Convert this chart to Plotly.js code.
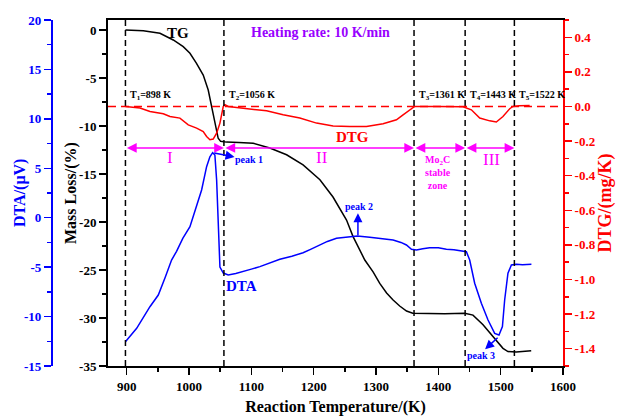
<!DOCTYPE html>
<html>
<head>
<meta charset="utf-8">
<script src="https://cdn.plot.ly/plotly-3.0.1.min.js"></script>
<style>
  html, body { margin: 0; padding: 0; background: #fff; }
  #chart { width: 617px; height: 416px; }
</style>
</head>
<body>
<div id="chart"></div>
<script>
// Thermogravimetric run of the Mo-C sample: TG (mass loss), DTG and DTA vs temperature.

// TG: reaction temperature (K) and mass loss (%)
const tgTemp = [898, 926.6, 953.4, 974.7, 990.7, 1001.5, 1012, 1022.8, 1030.8, 1036, 1041.5, 1046.8, 1050.7,
  1060, 1080, 1103, 1129.6, 1156.5, 1183, 1210, 1231, 1252.7, 1263, 1274, 1282, 1295.3, 1306, 1317, 1327,
  1338, 1349, 1359, 1380, 1410, 1442.3, 1455.6, 1471.7, 1487.7, 1503.7, 1511.7, 1525, 1549];
const tgMass = [0, -0.07, -0.35, -1.04, -1.74, -2.43, -3.47, -4.69, -6.25, -7.99, -9.72, -11.28, -11.6,
  -11.68, -11.72, -11.8, -12.3, -13.0, -14.06, -15.6, -17.4, -19.8, -21.5, -22.9, -23.96, -25.2, -26.4, -27.4, -28.1,
  -28.75, -29.27, -29.5, -29.55, -29.55, -29.5, -29.7, -30.7, -31.95, -33.16, -33.5, -33.55, -33.4];

// DTA: temperature (K) and signal (μV)
const dtaTemp = [898, 916, 937.3, 950.7, 962, 972, 980, 990, 1001.5, 1014.8, 1020.2, 1028.2, 1033.5, 1037.9,
  1041.5, 1044.3, 1046.8, 1048.4, 1049.6, 1055, 1062.9, 1075, 1087, 1100, 1113.7, 1130, 1145.7, 1165, 1183,
  1195, 1209.9, 1222, 1236.6, 1255.2, 1270, 1290, 1310, 1327.4, 1340, 1348.8, 1356.9, 1365, 1375, 1386, 1400,
  1412.9, 1425, 1439.6, 1445, 1450.3, 1458.3, 1469, 1479.7, 1490.4, 1497.3, 1502.8, 1506.4, 1511.7, 1517.2,
  1525.2, 1535, 1549.3];
const dtaSignal = [-12.54, -11.19, -9.0, -7.82, -6.0, -4.28, -3.4, -2.1, -0.91, 1.79, 2.8, 5.16, 6.17, 6.58,
  6.34, 3.82, -0.56, -3.09, -5.0, -5.6, -5.79, -5.65, -5.46, -5.2, -4.95, -4.6, -4.2, -3.9, -3.54,
  -3.2, -2.76, -2.4, -2.08, -1.92, -1.85, -1.98, -2.1, -2.25, -2.5, -2.76, -3.2, -3.27, -3.15, -3.03, -3.05,
  -3.2, -3.25, -3.37, -3.44, -4.28, -6.63, -8.66, -10.35, -11.7, -11.86, -11.02, -8.32, -5.62, -4.78,
  -4.71, -4.75, -4.71];

// DTG: temperature (K) and rate (mg/K)
const dtgTemp = [898, 921.3, 937.4, 958.7, 969.4, 985.4, 998.8, 1012.2, 1022.8, 1028.2, 1033.5, 1038.8, 1044.3,
  1049.6, 1054.9, 1057.6, 1062.9, 1080, 1097.7, 1124.4, 1151, 1177.8, 1204.6, 1231.2, 1258, 1284.7, 1311.4,
  1332.8, 1343.4, 1354.2, 1362, 1400, 1439.6, 1453, 1466.4, 1482.4, 1493, 1503.7, 1514.5, 1519.8, 1530, 1546.5];
const dtgRate = [0, -0.009, -0.029, -0.042, -0.058, -0.067, -0.106, -0.125, -0.145, -0.173, -0.192, -0.188, -0.154,
  -0.096, 0, 0.01, 0, -0.008, -0.015, -0.025, -0.048, -0.067, -0.096, -0.112, -0.116, -0.116, -0.1,
  -0.077, -0.048, -0.019, 0, 0, -0.002, -0.019, -0.067, -0.083, -0.09, -0.058, -0.013, 0, 0.004, 0.006];

// Stage boundary temperatures T1..T5 (K)
const boundaries = [898, 1056, 1361, 1443, 1522];
const stageLabels = ['I', 'II', 'Mo<sub>2</sub>C<br>stable<br>zone', 'III'];

// Tick labels
const tempTicks = [900, 1000, 1100, 1200, 1300, 1400, 1500, 1600];
const massTicks = [0, -5, -10, -15, -20, -25, -30, -35];
const dtaTicks = [20, 15, 10, 5, 0, -5, -10, -15];
const dtgTicks = [0.4, 0.2, 0, -0.2, -0.4, -0.6, -0.8, -1.0, -1.2, -1.4];

const FONT = 'Liberation Serif, Times New Roman, serif';
const BLUE = '#0000ff', RED = '#ff0000', MAGENTA = '#ff00ff', PURPLE = '#9900ff';

const traces = [
  { x: tgTemp, y: tgMass, yaxis: 'y', type: 'scatter', mode: 'lines',
    line: { color: '#000', width: 1.5 }, name: 'TG' },
  { x: dtgTemp, y: dtgRate, yaxis: 'y2', type: 'scatter', mode: 'lines',
    line: { color: RED, width: 1.5 }, name: 'DTG' },
  { x: dtaTemp, y: dtaSignal, yaxis: 'y3', type: 'scatter', mode: 'lines',
    line: { color: BLUE, width: 1.5 }, name: 'DTA' }
];

function axisBase(color) {
  return {
    showline: true, linecolor: color, linewidth: 2, showgrid: false, zeroline: false,
    ticks: 'outside', ticklen: 7, tickwidth: 1.5, tickcolor: color,
    tickfont: { family: FONT, size: 13, color: color, weight: 'bold' },
    automargin: false
  };
}

const shapes = boundaries.map(t => ({
  type: 'line', xref: 'x', yref: 'paper', x0: t, x1: t, y0: 0, y1: 1, layer: 'above',
  line: { color: '#000', width: 1.5, dash: '6px,4px' }
}));
// zero line of the DTG scale
shapes.push({
  type: 'line', xref: 'x domain', yref: 'y2', x0: 0, x1: 1, y0: 0, y1: 0, layer: 'above',
  line: { color: RED, width: 1.5, dash: '8px,5px' }
});

const annotations = [];
const txt = (text, x, y, opts) => annotations.push(Object.assign({
  text, x, y, xref: 'x', yref: 'paper', showarrow: false, xanchor: 'center', yanchor: 'middle',
  font: { family: FONT, size: 10, color: '#000', weight: 'bold' }
}, opts || {}));

// boundary labels
boundaries.forEach((t, i) => txt(`T<sub>${i + 1}</sub>=${t} K`, t, 0.783,
  { xanchor: 'left', xshift: 3, font: { family: FONT, size: 10, color: '#000', weight: 'bold' } }));

// stage arrows between boundaries
for (let i = 0; i < boundaries.length - 1; i++) {
  annotations.push({
    text: '', xref: 'x', yref: 'y', axref: 'x', ayref: 'y',
    x: boundaries[i + 1], y: -12.29, ax: boundaries[i], ay: -12.29,
    showarrow: true, arrowside: 'end+start', arrowhead: 2, startarrowhead: 2,
    arrowsize: 1.3, startarrowsize: 1.3, arrowwidth: 1.5, arrowcolor: MAGENTA,
    standoff: 0, startstandoff: 0
  });
}

// stage names
txt(stageLabels[0], 970, 0.603, { font: { family: FONT, size: 17, color: MAGENTA } });
txt(stageLabels[1], 1213, 0.603, { font: { family: FONT, size: 17, color: MAGENTA } });
txt(stageLabels[2], 1400, 0.560, { font: { family: FONT, size: 10, color: MAGENTA, weight: 'bold' } });
txt(stageLabels[3], 1485, 0.598, { font: { family: FONT, size: 17, color: MAGENTA } });

// curve names and heading
txt('TG', 983, 0.962, { font: { family: FONT, size: 15, color: '#000', weight: 'bold' } });
txt('Heating rate: 10 K/min', 1211, 0.964, { font: { family: FONT, size: 14, color: PURPLE, weight: 'bold' } });
txt('DTG', 1263, 0.663, { font: { family: FONT, size: 15, color: RED, weight: 'bold' } });
txt('DTA', 1084, 0.231, { font: { family: FONT, size: 15, color: BLUE, weight: 'bold' } });

// DTA peaks
const peakFont = { family: FONT, size: 10, color: BLUE, weight: 'bold' };
txt('peak 1', 1096, 0.598, { font: peakFont });
txt('peak 2', 1272, 0.460, { font: peakFont });
txt('peak 3', 1468, 0.030, { font: peakFont });
const peakArrow = (x, y, ax, ay) => annotations.push({
  text: '', xref: 'x', yref: 'y3', axref: 'x', ayref: 'y3', x, y, ax, ay,
  showarrow: true, arrowhead: 2, arrowsize: 1.2, arrowwidth: 1.5, arrowcolor: BLUE, standoff: 0
});
peakArrow(1073, 6.14, 1038, 6.58);
peakArrow(1271, 0.45, 1271, -1.92);
peakArrow(1475, -13.3, 1497.5, -12.0);

// vertical axis titles, placed beside each scale
const titleFont = (c, s) => ({ family: FONT, size: s || 16, color: c, weight: 'bold' });
const axisTitle = (text, x, y, color, size) => annotations.push({
  text, x, y, xref: 'paper', yref: 'paper', xanchor: 'center', yanchor: 'middle',
  textangle: -90, showarrow: false, font: titleFont(color, size)
});
axisTitle('DTA/(μV)', 0.018, 0.5, BLUE, 16);
axisTitle('Mass Loss/(%)', 0.1103, 0.5, '#000', 16);
axisTitle('DTG/(mg/K)', 1.076, 0.47, RED, 18);

const layout = {
  width: 617, height: 416,
  margin: { l: 10, r: 54, t: 20, b: 50 },
  paper_bgcolor: '#fff', plot_bgcolor: '#fff',
  showlegend: false, hovermode: false,
  font: { family: FONT, size: 13, color: '#000' },
  xaxis: Object.assign(axisBase('#000'), {
    domain: [0.1772, 1], range: [870, 1600], mirror: true,
    tickmode: 'array', tickvals: tempTicks, ticktext: tempTicks.map(String),
    minor: { dtick: 50, tick0: 0, ticks: 'outside', ticklen: 4, tickwidth: 1.5, tickcolor: '#000', showgrid: false },
    title: { text: 'Reaction Temperature/(K)', font: titleFont('#000'), standoff: 8 }
  }),
  yaxis: Object.assign(axisBase('#000'), {
    range: [-35, 1.04],
    tickmode: 'array', tickvals: massTicks, ticktext: massTicks.map(String),
    minor: { dtick: 2.5, tick0: 0, ticks: 'outside', ticklen: 4, tickwidth: 1.5, tickcolor: '#000', showgrid: false }
  }),
  yaxis2: Object.assign(axisBase(RED), {
    overlaying: 'y', side: 'right', range: [-1.5, 0.5],
    tickmode: 'array', tickvals: dtgTicks, ticktext: dtgTicks.map(v => v.toFixed(1)),
    minor: { dtick: 0.1, tick0: 0, ticks: 'outside', ticklen: 4, tickwidth: 1.5, tickcolor: RED, showgrid: false }
  }),
  yaxis3: Object.assign(axisBase(BLUE), {
    overlaying: 'y', anchor: 'free', position: 0.0759, side: 'left', range: [-15, 20],
    tickmode: 'array', tickvals: dtaTicks, ticktext: dtaTicks.map(String),
    minor: { dtick: 2.5, tick0: 0, ticks: 'outside', ticklen: 4, tickwidth: 1.5, tickcolor: BLUE, showgrid: false }
  }),
  shapes, annotations
};

Plotly.newPlot('chart', traces, layout, { displayModeBar: false, staticPlot: true });
</script>
</body>
</html>
